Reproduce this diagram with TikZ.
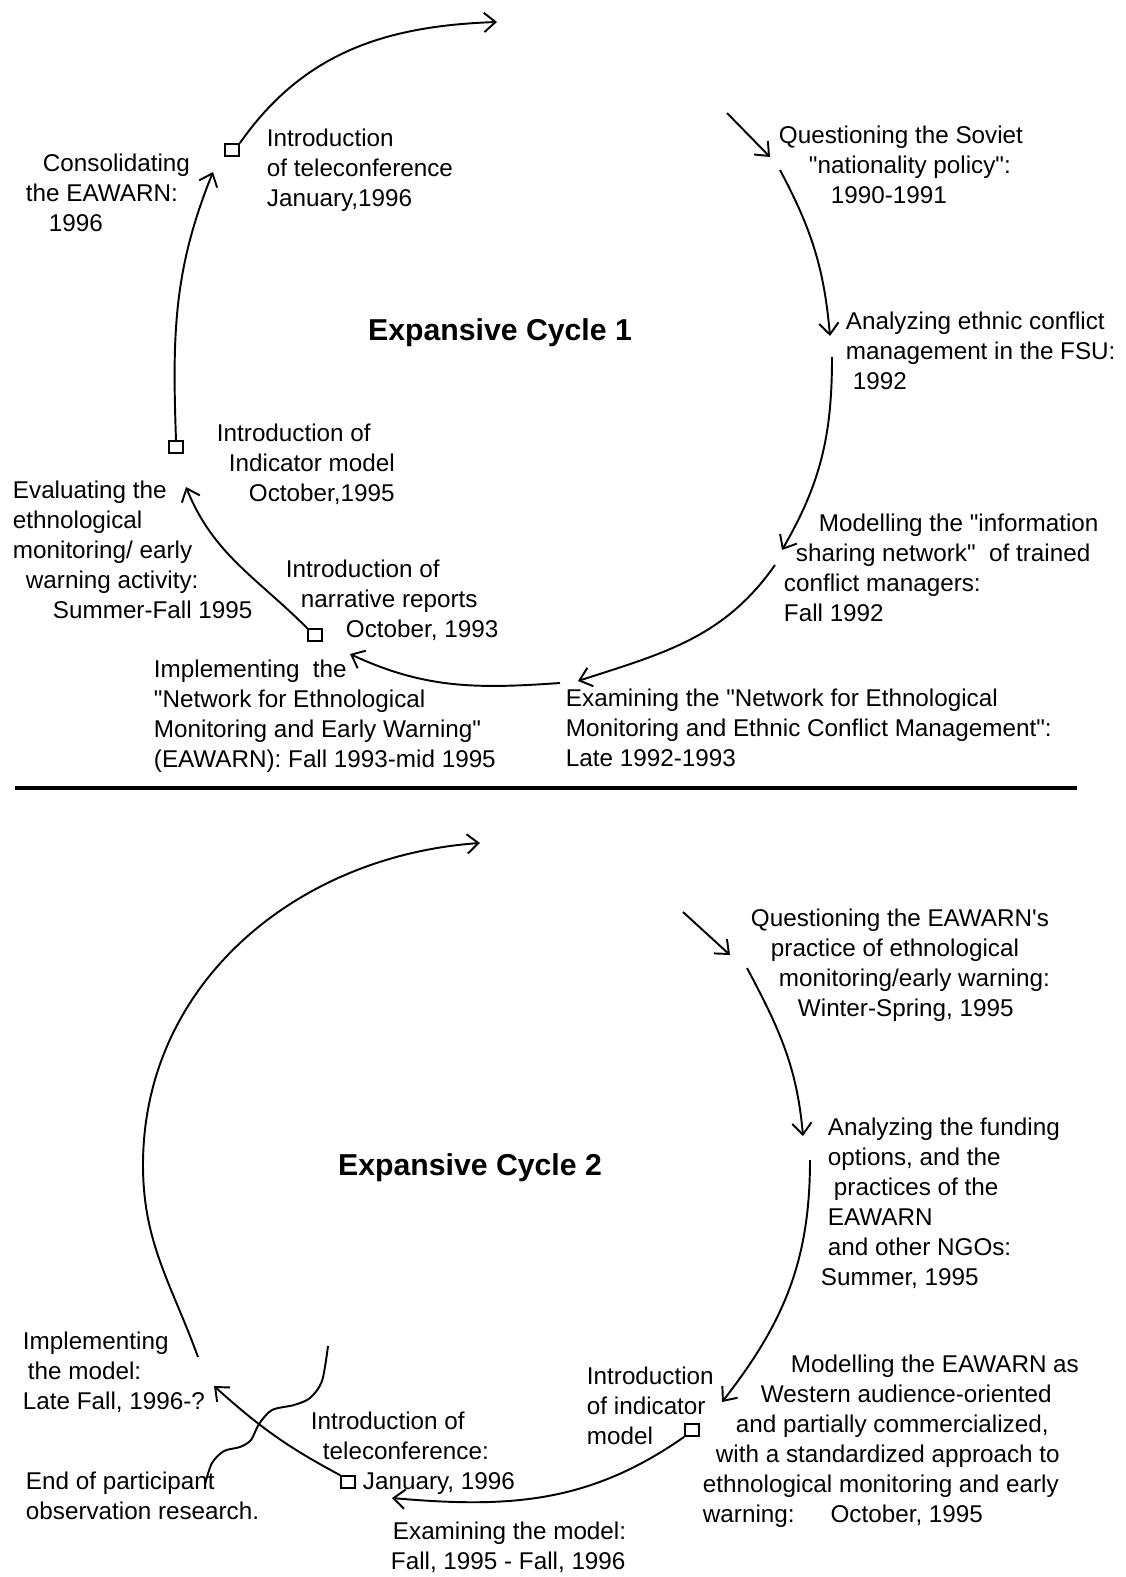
\documentclass[tikz,border=0pt]{standalone}
\usepackage{fontspec}
\newfontfamily\lblfam{Liberation Sans}
\usetikzlibrary{arrows.meta}
\newcommand{\lblfont}{\lblfam\fontsize{13.8pt}{17.07pt}\selectfont}
\newcommand{\cycfont}{\lblfam\fontsize{17.2pt}{20pt}\selectfont\bfseries}
\newcommand{\indnt}[1]{\hspace*{#1\dimexpr0.02cm\relax}}

\begin{document}
\begin{tikzpicture}[x=0.02cm, y=-0.02cm, line width=1.1pt,
  lbl/.style={align=left, anchor=north west, inner sep=0pt, font=\lblfont},
  cyc/.style={inner sep=0pt, font=\cycfont},
  sq/.style={draw, inner sep=0pt, minimum width=0.28cm, minimum height=0.24cm, line width=1pt},
  flow/.style={-{Straight Barb[length=6.5pt,width=11pt]}}]
  \useasboundingbox (0,0) rectangle (1125,1577);

  % cycle 1
  \node[cyc] (cycA) at (500,333) {Expansive Cycle 1};
  \node[lbl] (intTele) at (266,128) {Introduction\\of teleconference\\January,1996};
  \node[lbl] (consol) at (25,153) {\indnt{17}Consolidating\\the EAWARN:\\\indnt{23}1996};
  \node[lbl] (questSov) at (778,125) {Questioning the Soviet\\\indnt{30}"nationality policy":\\\indnt{52}1990-1991};
  \node[lbl] (analEth) at (845,311) {Analyzing ethnic conflict\\management in the FSU:\\\indnt{7}1992};
  \node[lbl] (intInd) at (216,423) {Introduction of\\\indnt{12}Indicator model\\\indnt{32}October,1995};
  \node[lbl] (evalEth) at (12,480) {Evaluating the\\ethnological\\monitoring/ early\\\indnt{13}warning activity:\\\indnt{40}Summer-Fall 1995};
  \node[lbl] (intNarr) at (285,559) {Introduction of\\\indnt{15}narrative reports\\\indnt{60}October, 1993};
  \node[lbl] (modInfo) at (783,513) {\indnt{35}Modelling the "information\\\indnt{12}sharing network"~~of trained\\conflict managers:\\Fall 1992};
  \node[lbl] (implNet) at (153,659) {Implementing~~the\\"Network for Ethnological\\Monitoring and Early Warning"\\(EAWARN): Fall 1993-mid 1995};
  \node[lbl] (examNet) at (565,688) {Examining the "Network for Ethnological\\Monitoring and Ethnic Conflict Management":\\Late 1992-1993};

  \node[sq] (sqTele) at (232,150) {};
  \node[sq] (sqInd) at (176,447) {};
  \node[sq] (sqNarr) at (315,635) {};

  \coordinate (topA) at (497,22);
  \coordinate (qsA1) at (727,113);
  \coordinate (qsA2) at (770,157);
  \coordinate (anA1) at (780,170);
  \coordinate (anA2) at (830,336);
  \coordinate (moA1) at (832,357);
  \coordinate (moA2) at (782,550);
  \coordinate (exA1) at (775,565);
  \coordinate (exA2) at (578,681);
  \coordinate (imA1) at (560,683);
  \coordinate (imA2) at (350,654);
  \coordinate (evA2) at (186,487);
  \coordinate (coA2) at (213,172);

  \path[flow]
    (sqTele.north east) edge[out=55,in=182] (topA)
    (qsA1) edge (qsA2)
    (anA1) edge[out=-62,in=95] (anA2)
    (moA1) edge[out=-90,in=60] (moA2)
    (exA1) edge[out=-125,in=18] (exA2)
    (imA1) edge[out=184,in=-25] (imA2)
    (sqNarr.north west) edge[out=135,in=-68] (evA2)
    (sqInd.north) edge[out=92,in=-112] (coA2);

  \draw[line width=2.4pt] (15,788) -- (1077,788);

  % cycle 2
  \node[cyc] (cycB) at (470,1168) {Expansive Cycle 2};
  \node[lbl] (questEaw) at (750,908) {Questioning the EAWARN's\\\indnt{20}practice of ethnological\\\indnt{28}monitoring/early warning:\\\indnt{47}Winter-Spring, 1995};
  \node[lbl] (analFund) at (820,1117) {\indnt{7}Analyzing the funding\\\indnt{7}options, and the\\\indnt{13}practices of the\\\indnt{7}EAWARN\\\indnt{7}and other NGOs:\\Summer, 1995};
  \node[lbl] (implMod) at (22,1331) {Implementing\\\indnt{5}the model:\\Late Fall, 1996-?};
  \node[lbl] (intIndB) at (586,1366) {Introduction\\of indicator\\model};
  \node[lbl] (modEaw) at (702,1354) {\indnt{88}Modelling the EAWARN as\\\indnt{58}Western audience-oriented\\\indnt{33}and partially commercialized,\\\indnt{13}with a standardized approach to\\ethnological monitoring and early\\warning:\hspace{0.72cm}October, 1995};
  \node[lbl] (intTeleB) at (310,1411) {Introduction of\\\indnt{12}teleconference:\\\indnt{52}January, 1996};
  \node[lbl] (endPart) at (25,1471) {End of participant\\observation research.};
  \node[lbl] (examMod) at (390,1521) {\indnt{2}Examining the model:\\Fall, 1995 - Fall, 1996};

  \node[sq] (sqIndB) at (692,1430) {};
  \node[sq] (sqTeleB) at (348,1482) {};

  \coordinate (loB1) at (198,1357);
  \coordinate (loB2) at (143,1165);
  \coordinate (topB) at (480,843);
  \coordinate (qsB1) at (683,912);
  \coordinate (qsB2) at (730,955);
  \coordinate (anB1) at (747,968);
  \coordinate (anB2) at (803,1136);
  \coordinate (moB1) at (810,1160);
  \coordinate (moB2) at (722,1402);
  \coordinate (exB2) at (392,1498);
  \coordinate (imB2) at (214,1386);

  \path[flow]
    (qsB1) edge (qsB2)
    (anB1) edge[out=-62,in=95] (anB2)
    (moB1) edge[out=-90,in=52] (moB2)
    (sqIndB.south west) edge[out=-145,in=-5] (exB2)
    (sqTeleB.north west) edge[out=152,in=-42] (imB2);
  \draw[flow] (loB1) to[out=110,in=-90] (loB2) to[out=90,in=184] (topB);

  \draw plot[smooth] coordinates {(328,1346) (322,1381) (310,1398) (294,1405) (272,1410) (259,1424) (251,1440) (240,1447) (224,1451) (212,1463) (205,1484)};
\end{tikzpicture}
\end{document}
